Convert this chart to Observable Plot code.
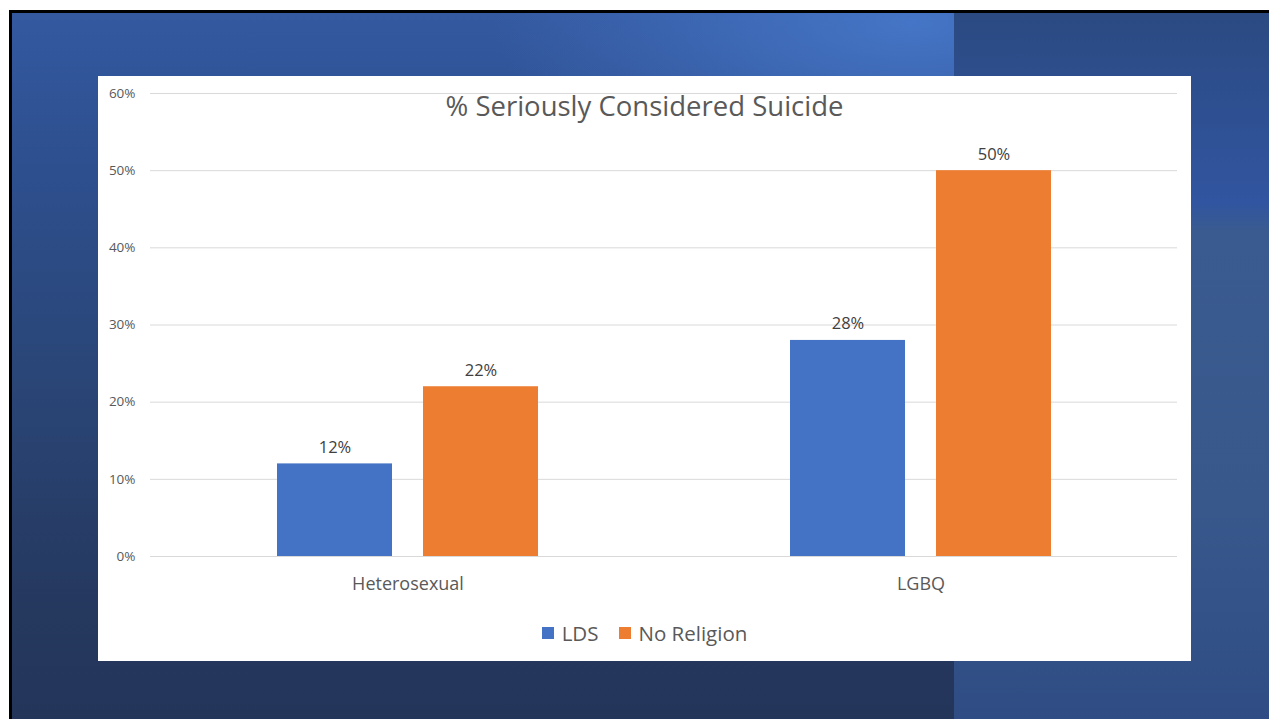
<!DOCTYPE html>
<html>
<head>
<meta charset="utf-8">
<script src="https://cdn.jsdelivr.net/npm/d3@7"></script>
<script src="https://cdn.jsdelivr.net/npm/@observablehq/plot@0.6"></script>
<style>
  html, body { margin: 0; padding: 0; width: 1269px; height: 719px; overflow: hidden; background: #fff; font-family: "Open Sans", sans-serif; }
  #slide { position: absolute; left: 9px; top: 10px; right: 0; bottom: 0; border-top: 3px solid #000; border-left: 3px solid #000;
    background:
      radial-gradient(ellipse 420px 160px at 900px 10px, rgba(72,122,205,0.85), rgba(72,122,205,0) 100%),
      linear-gradient(to bottom, #3459a0 0%, #2e5090 20%, #2a4678 50%, #25385e 85%, #24355a 100%); }
  #strip { position: absolute; left: 942px; top: 0; right: 0; bottom: 0;
    background: linear-gradient(to bottom, #2b4a82 0%, #3155a0 27%, #3a5b8f 31%, #38588c 70%, #2f4d84 100%); }
  #panel { position: absolute; left: 98px; top: 76px; width: 1093px; height: 585px; background: #fff; }
  #title { position: absolute; left: 0; width: 1093px; top: 11px; text-align: center; font-size: 27.5px; color: #595959; }
  #chart { position: absolute; left: 0; top: 0; }
  #legend { position: absolute; left: 0; width: 1093px; top: 543px; display: flex; justify-content: center; align-items: center; font-size: 20.5px; color: #595959; }
  #legend .item { display: flex; align-items: center; margin: 0 10px; }
  #legend .sw { width: 12px; height: 12px; margin-right: 8px; }
</style>
</head>
<body>
<div id="slide"><div id="strip"></div></div>
<div id="panel">
  <div id="chart"></div>
  <div id="title"></div>
  <div id="legend"></div>
</div>
<script>
// Survey results: share who seriously considered suicide
const titleText = "% Seriously Considered Suicide";
const groups = ["Heterosexual", "LGBQ"];
const series = ["LDS", "No Religion"];
const colors = ["#4472c4", "#ed7d31"];
const ldsValues = [0.12, 0.28];
const noReligionValues = [0.22, 0.50];
const yTicks = [0, 0.1, 0.2, 0.3, 0.4, 0.5, 0.6];

const rows = [
  ...groups.map((g, i) => ({group: g, series: series[0], value: ldsValues[i]})),
  ...groups.map((g, i) => ({group: g, series: series[1], value: noReligionValues[i]}))
];

// two bars per group, side by side inside each band
const barWidth = 115, barGap = 31;
const half = (barWidth + barGap) / 2;
const pct = d3.format(".0%");

const chart = Plot.plot({
  width: 1093,
  height: 520,
  marginLeft: 52,
  marginRight: 14,
  marginTop: 17,
  marginBottom: 40,
  style: {fontFamily: "'Open Sans', sans-serif", background: "transparent", color: "#595959"},
  x: {domain: groups, paddingInner: 0.4917, paddingOuter: 0.2458, label: null},
  y: {domain: [0, 0.6], label: null},
  color: {domain: series, range: colors},
  marks: [
    Plot.ruleY(yTicks, {stroke: "#d9d9d9", strokeWidth: 1}),
    Plot.axisY({ticks: yTicks, tickFormat: pct, tickSize: 0, tickPadding: 15, fontSize: 13.5, fill: "#595959", label: null}),
    Plot.axisX({tickSize: 0, tickPadding: 21, fontSize: 18, fill: "#595959", label: null}),
    Plot.barY(rows.filter(d => d.series === series[0]), {x: "group", y: "value", fill: "series", insetRight: barWidth + barGap}),
    Plot.barY(rows.filter(d => d.series === series[1]), {x: "group", y: "value", fill: "series", insetLeft: barWidth + barGap}),
    Plot.text(rows.filter(d => d.series === series[0]), {x: "group", y: "value", text: d => pct(d.value), dx: -half, dy: -11, lineAnchor: "bottom", fontSize: 16.5, fill: "#404040"}),
    Plot.text(rows.filter(d => d.series === series[1]), {x: "group", y: "value", text: d => pct(d.value), dx: half, dy: -11, lineAnchor: "bottom", fontSize: 16.5, fill: "#404040"})
  ]
});
document.getElementById("chart").append(chart);
document.getElementById("title").textContent = titleText;

const legend = document.getElementById("legend");
series.forEach((s, i) => {
  const item = document.createElement("div");
  item.className = "item";
  const sw = document.createElement("span");
  sw.className = "sw";
  sw.style.background = colors[i];
  const label = document.createElement("span");
  label.textContent = s;
  item.append(sw, label);
  legend.append(item);
});
</script>
</body>
</html>
